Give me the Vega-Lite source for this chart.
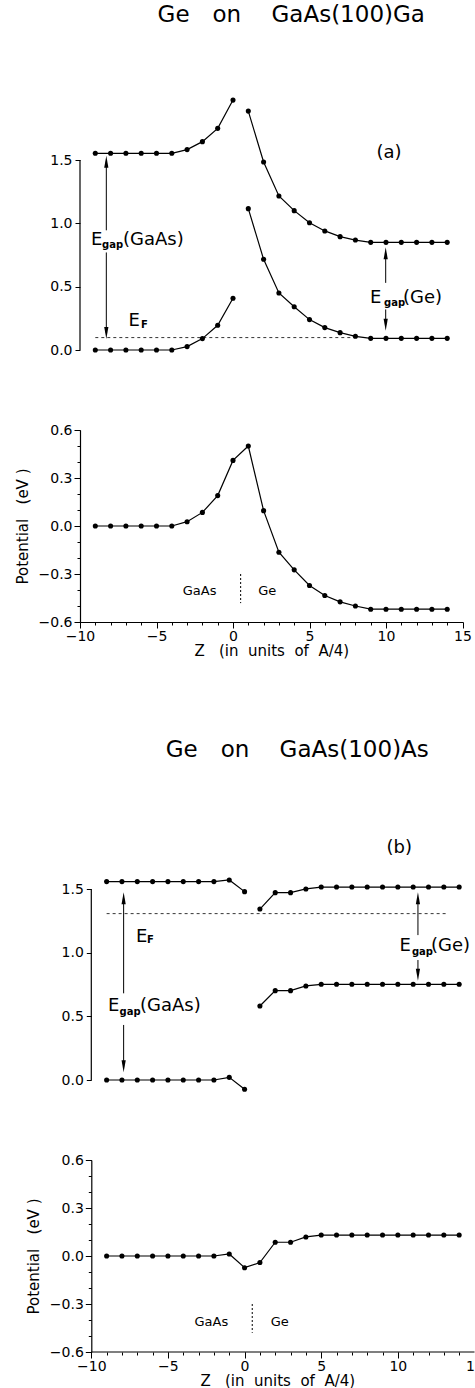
{
  "$schema": "https://vega.github.io/schema/vega-lite/v6.json",
  "padding": {"left": 15, "top": 4, "right": 0, "bottom": 0},
  "background": "white",
  "bounds": "flush",
  "spacing": 80,
  "resolve": {"scale": {"x": "independent", "y": "independent"}},
  "config": {
    "view": {"stroke": null},
    "axis": {
      "grid": false, "labelFont": "DejaVu Sans", "labelFontSize": 14, "labelColor": "black",
      "tickColor": "black", "domainColor": "black", "tickWidth": 1, "domainWidth": 1.2,
      "titleFont": "DejaVu Sans", "titleFontSize": 15, "titleFontWeight": "normal", "titleColor": "black",
      "labelFlush": false, "labelOverlap": false, "labelBound": false
    },
    "title": {"font": "DejaVu Sans", "fontSize": 23, "fontWeight": "normal", "color": "black"}
  },
  "datasets": {
    "a_bands": [
      {"z": -9, "E": 1.553, "series": "cb_GaAs"}, {"z": -8, "E": 1.553, "series": "cb_GaAs"}, {"z": -7, "E": 1.553, "series": "cb_GaAs"},
      {"z": -6, "E": 1.553, "series": "cb_GaAs"}, {"z": -5, "E": 1.553, "series": "cb_GaAs"}, {"z": -4, "E": 1.553, "series": "cb_GaAs"},
      {"z": -3, "E": 1.582, "series": "cb_GaAs"}, {"z": -2, "E": 1.645, "series": "cb_GaAs"}, {"z": -1, "E": 1.75, "series": "cb_GaAs"},
      {"z": 0, "E": 1.973, "series": "cb_GaAs"},
      {"z": 1, "E": 1.886, "series": "cb_Ge"}, {"z": 2, "E": 1.484, "series": "cb_Ge"}, {"z": 3, "E": 1.216, "series": "cb_Ge"},
      {"z": 4, "E": 1.1, "series": "cb_Ge"}, {"z": 5, "E": 1.005, "series": "cb_Ge"}, {"z": 6, "E": 0.94, "series": "cb_Ge"},
      {"z": 7, "E": 0.895, "series": "cb_Ge"}, {"z": 8, "E": 0.868, "series": "cb_Ge"}, {"z": 9, "E": 0.85, "series": "cb_Ge"},
      {"z": 10, "E": 0.85, "series": "cb_Ge"}, {"z": 11, "E": 0.85, "series": "cb_Ge"}, {"z": 12, "E": 0.85, "series": "cb_Ge"},
      {"z": 13, "E": 0.85, "series": "cb_Ge"}, {"z": 14, "E": 0.85, "series": "cb_Ge"},
      {"z": -9, "E": 0, "series": "vb_GaAs"}, {"z": -8, "E": 0, "series": "vb_GaAs"}, {"z": -7, "E": 0, "series": "vb_GaAs"},
      {"z": -6, "E": 0, "series": "vb_GaAs"}, {"z": -5, "E": 0, "series": "vb_GaAs"}, {"z": -4, "E": 0, "series": "vb_GaAs"},
      {"z": -3, "E": 0.027, "series": "vb_GaAs"}, {"z": -2, "E": 0.09, "series": "vb_GaAs"}, {"z": -1, "E": 0.195, "series": "vb_GaAs"},
      {"z": 0, "E": 0.408, "series": "vb_GaAs"},
      {"z": 1, "E": 1.116, "series": "vb_Ge"}, {"z": 2, "E": 0.716, "series": "vb_Ge"}, {"z": 3, "E": 0.45, "series": "vb_Ge"},
      {"z": 4, "E": 0.342, "series": "vb_Ge"}, {"z": 5, "E": 0.24, "series": "vb_Ge"}, {"z": 6, "E": 0.177, "series": "vb_Ge"},
      {"z": 7, "E": 0.137, "series": "vb_Ge"}, {"z": 8, "E": 0.108, "series": "vb_Ge"}, {"z": 9, "E": 0.092, "series": "vb_Ge"},
      {"z": 10, "E": 0.092, "series": "vb_Ge"}, {"z": 11, "E": 0.092, "series": "vb_Ge"}, {"z": 12, "E": 0.092, "series": "vb_Ge"},
      {"z": 13, "E": 0.092, "series": "vb_Ge"}, {"z": 14, "E": 0.092, "series": "vb_Ge"}
    ],
    "a_pot": [
      {"z": -9, "V": 0}, {"z": -8, "V": 0}, {"z": -7, "V": 0}, {"z": -6, "V": 0}, {"z": -5, "V": 0}, {"z": -4, "V": 0},
      {"z": -3, "V": 0.027}, {"z": -2, "V": 0.085}, {"z": -1, "V": 0.19}, {"z": 0, "V": 0.41}, {"z": 1, "V": 0.5},
      {"z": 2, "V": 0.096}, {"z": 3, "V": -0.164}, {"z": 4, "V": -0.274}, {"z": 5, "V": -0.372}, {"z": 6, "V": -0.434},
      {"z": 7, "V": -0.474}, {"z": 8, "V": -0.5}, {"z": 9, "V": -0.52}, {"z": 10, "V": -0.52}, {"z": 11, "V": -0.52},
      {"z": 12, "V": -0.52}, {"z": 13, "V": -0.52}, {"z": 14, "V": -0.52}
    ],
    "b_bands": [
      {"z": -9, "E": 1.561, "series": "cb_GaAs"}, {"z": -8, "E": 1.561, "series": "cb_GaAs"}, {"z": -7, "E": 1.561, "series": "cb_GaAs"},
      {"z": -6, "E": 1.561, "series": "cb_GaAs"}, {"z": -5, "E": 1.561, "series": "cb_GaAs"}, {"z": -4, "E": 1.561, "series": "cb_GaAs"},
      {"z": -3, "E": 1.561, "series": "cb_GaAs"}, {"z": -2, "E": 1.561, "series": "cb_GaAs"}, {"z": -1, "E": 1.574, "series": "cb_GaAs"},
      {"z": 0, "E": 1.482, "series": "cb_GaAs"},
      {"z": 1, "E": 1.345, "series": "cb_Ge"}, {"z": 2, "E": 1.474, "series": "cb_Ge"}, {"z": 3, "E": 1.474, "series": "cb_Ge"},
      {"z": 4, "E": 1.503, "series": "cb_Ge"}, {"z": 5, "E": 1.518, "series": "cb_Ge"}, {"z": 6, "E": 1.518, "series": "cb_Ge"},
      {"z": 7, "E": 1.518, "series": "cb_Ge"}, {"z": 8, "E": 1.518, "series": "cb_Ge"}, {"z": 9, "E": 1.518, "series": "cb_Ge"},
      {"z": 10, "E": 1.518, "series": "cb_Ge"}, {"z": 11, "E": 1.518, "series": "cb_Ge"}, {"z": 12, "E": 1.518, "series": "cb_Ge"},
      {"z": 13, "E": 1.518, "series": "cb_Ge"}, {"z": 14, "E": 1.518, "series": "cb_Ge"},
      {"z": -9, "E": 0, "series": "vb_GaAs"}, {"z": -8, "E": 0, "series": "vb_GaAs"}, {"z": -7, "E": 0, "series": "vb_GaAs"},
      {"z": -6, "E": 0, "series": "vb_GaAs"}, {"z": -5, "E": 0, "series": "vb_GaAs"}, {"z": -4, "E": 0, "series": "vb_GaAs"},
      {"z": -3, "E": 0, "series": "vb_GaAs"}, {"z": -2, "E": 0, "series": "vb_GaAs"}, {"z": -1, "E": 0.021, "series": "vb_GaAs"},
      {"z": 0, "E": -0.073, "series": "vb_GaAs"},
      {"z": 1, "E": 0.582, "series": "vb_Ge"}, {"z": 2, "E": 0.703, "series": "vb_Ge"}, {"z": 3, "E": 0.703, "series": "vb_Ge"},
      {"z": 4, "E": 0.74, "series": "vb_Ge"}, {"z": 5, "E": 0.753, "series": "vb_Ge"}, {"z": 6, "E": 0.753, "series": "vb_Ge"},
      {"z": 7, "E": 0.753, "series": "vb_Ge"}, {"z": 8, "E": 0.753, "series": "vb_Ge"}, {"z": 9, "E": 0.753, "series": "vb_Ge"},
      {"z": 10, "E": 0.753, "series": "vb_Ge"}, {"z": 11, "E": 0.753, "series": "vb_Ge"}, {"z": 12, "E": 0.753, "series": "vb_Ge"},
      {"z": 13, "E": 0.753, "series": "vb_Ge"}, {"z": 14, "E": 0.753, "series": "vb_Ge"}
    ],
    "b_pot": [
      {"z": -9, "V": 0}, {"z": -8, "V": 0}, {"z": -7, "V": 0}, {"z": -6, "V": 0}, {"z": -5, "V": 0}, {"z": -4, "V": 0},
      {"z": -3, "V": 0}, {"z": -2, "V": 0}, {"z": -1, "V": 0.0125}, {"z": 0, "V": -0.073}, {"z": 1, "V": -0.041},
      {"z": 2, "V": 0.086}, {"z": 3, "V": 0.086}, {"z": 4, "V": 0.119}, {"z": 5, "V": 0.131}, {"z": 6, "V": 0.131},
      {"z": 7, "V": 0.131}, {"z": 8, "V": 0.131}, {"z": 9, "V": 0.131}, {"z": 10, "V": 0.131}, {"z": 11, "V": 0.131},
      {"z": 12, "V": 0.131}, {"z": 13, "V": 0.131}, {"z": 14, "V": 0.131}
    ],
    "a_fermi": [{"z1": -9, "z2": 8, "E": 0.098}],
    "b_fermi": [{"z1": -9, "z2": 13.3, "E": 1.309}],
    "axis_line": [{"z": -10, "v1": 0, "v2": 1.5}],
    "b_xline": [{"z1": -10, "z2": 15, "v": -0.6}],
    "a_shafts": [
      {"z": -8.28, "v1": 1.487, "v2": 0.945}, {"z": -8.28, "v1": 0.77, "v2": 0.134},
      {"z": 9.98, "v1": 0.763, "v2": 0.53}, {"z": 9.98, "v1": 0.32, "v2": 0.2}
    ],
    "a_heads": [
      {"z": -8.28, "v": 1.487, "dir": "up"}, {"z": -8.28, "v": 0.134, "dir": "down"},
      {"z": 9.98, "v": 0.763, "dir": "up"}, {"z": 9.98, "v": 0.2, "dir": "down"}
    ],
    "b_shafts": [
      {"z": -7.89, "v1": 1.43, "v2": 0.682}, {"z": -7.89, "v1": 0.433, "v2": 0.108},
      {"z": 11.31, "v1": 1.43, "v2": 1.14}, {"z": 11.31, "v1": 0.944, "v2": 0.828}
    ],
    "b_heads": [
      {"z": -7.89, "v": 1.43, "dir": "up"}, {"z": -7.89, "v": 0.108, "dir": "down"},
      {"z": 11.31, "v": 1.43, "dir": "up"}, {"z": 11.31, "v": 0.828, "dir": "down"}
    ],
    "a_text": [
      {"z": -9.28, "v": 0.868, "t": "E"}, {"z": -7.19, "v": 0.868, "t": "(GaAs)"},
      {"z": -6.83, "v": 0.227, "t": "E"},
      {"z": 8.95, "v": 0.414, "t": "E"}, {"z": 11.11, "v": 0.414, "t": "(Ge)"},
      {"z": 9.38, "v": 1.558, "t": "(a)"}
    ],
    "a_sub": [
      {"z": -8.56, "v": 0.83, "t": "gap"}, {"z": -6.01, "v": 0.195, "t": "F"}, {"z": 9.87, "v": 0.374, "t": "gap"}
    ],
    "b_text": [
      {"z": -8.91, "v": 0.584, "t": "E"}, {"z": -6.82, "v": 0.584, "t": "(GaAs)"},
      {"z": -7.08, "v": 1.128, "t": "E"},
      {"z": 10.1, "v": 1.056, "t": "E"}, {"z": 12.16, "v": 1.056, "t": "(Ge)"},
      {"z": 9.26, "v": 1.823, "t": "(b)"}
    ],
    "b_sub": [
      {"z": -8.16, "v": 0.538, "t": "gap"}, {"z": -6.37, "v": 1.1, "t": "F"}, {"z": 10.92, "v": 1.01, "t": "gap"}
    ],
    "a_iface": [{"z": 0.5, "v1": -0.3, "v2": -0.482}],
    "b_iface": [{"z": 0.5, "v1": -0.3, "v2": -0.48}],
    "a_lbl": [{"z": -2.18, "v": -0.407, "t": "GaAs"}, {"z": 2.24, "v": -0.407, "t": "Ge"}],
    "b_lbl": [{"z": -2.17, "v": -0.41, "t": "GaAs"}, {"z": 2.29, "v": -0.41, "t": "Ge"}]
  },
  "vconcat": [
    {
      "width": 382.5, "height": 342,
      "title": {"text": "Ge\u2003on\u2003\u00a0GaAs(100)Ga", "frame": "group", "anchor": "middle", "dx": 20, "offset": -42, "baseline": "bottom"},
      "layer": [
        {
          "data": {"name": "a_bands"},
          "mark": {"type": "line", "color": "black", "strokeWidth": 1.2},
          "encoding": {
            "x": {"field": "z", "type": "quantitative", "scale": {"domain": [-10, 15], "nice": false, "zero": false}, "axis": null},
            "y": {"field": "E", "type": "quantitative", "scale": {"domain": [0, 2.7], "nice": false, "zero": false},
                  "axis": {"values": [0, 0.5, 1, 1.5], "format": ".1f", "domain": false, "tickSize": 5, "labelPadding": 3, "title": null, "labelOverlap": false}},
            "detail": {"field": "series"}
          }
        },
        {
          "data": {"name": "a_bands"},
          "mark": {"type": "point", "filled": true, "size": 26, "color": "black", "opacity": 1},
          "encoding": {
            "x": {"field": "z", "type": "quantitative", "axis": null},
            "y": {"field": "E", "type": "quantitative"}
          }
        },
        {
          "data": {"name": "a_fermi"},
          "mark": {"type": "rule", "color": "black", "strokeWidth": 0.8, "strokeDash": [3, 3]},
          "encoding": {
            "x": {"field": "z1", "type": "quantitative", "axis": null}, "x2": {"field": "z2"},
            "y": {"field": "E", "type": "quantitative"}
          }
        },
        {
          "data": {"name": "axis_line"},
          "mark": {"type": "rule", "color": "black", "strokeWidth": 1.2},
          "encoding": {
            "x": {"field": "z", "type": "quantitative", "axis": null},
            "y": {"field": "v1", "type": "quantitative"}, "y2": {"field": "v2"}
          }
        },
        {
          "data": {"name": "a_shafts"},
          "mark": {"type": "rule", "color": "black", "strokeWidth": 1},
          "encoding": {
            "x": {"field": "z", "type": "quantitative", "axis": null},
            "y": {"field": "v1", "type": "quantitative"}, "y2": {"field": "v2"}
          }
        },
        {
          "data": {"name": "a_heads"},
          "mark": {"type": "point", "filled": true, "size": 144, "color": "black", "opacity": 1},
          "encoding": {
            "x": {"field": "z", "type": "quantitative", "axis": null},
            "y": {"field": "v", "type": "quantitative"},
            "shape": {"field": "dir", "type": "nominal", "legend": null,
                      "scale": {"domain": ["up", "down"], "range": ["M-0.35,1L0,-1L0.35,1Z", "M-0.35,-1L0,1L0.35,-1Z"]}}
          }
        },
        {
          "data": {"name": "a_text"},
          "mark": {"type": "text", "align": "left", "baseline": "middle", "font": "DejaVu Sans", "fontSize": 18, "color": "black"},
          "encoding": {
            "x": {"field": "z", "type": "quantitative", "axis": null},
            "y": {"field": "v", "type": "quantitative"},
            "text": {"field": "t"}
          }
        },
        {
          "data": {"name": "a_sub"},
          "mark": {"type": "text", "align": "left", "baseline": "middle", "font": "DejaVu Sans", "fontSize": 10, "fontWeight": "bold", "color": "black"},
          "encoding": {
            "x": {"field": "z", "type": "quantitative", "axis": null},
            "y": {"field": "v", "type": "quantitative"},
            "text": {"field": "t"}
          }
        }
      ]
    },
    {
      "width": 382.5, "height": 192,
      "resolve": {"axis": {"x": "independent", "y": "independent"}},
      "layer": [
        {
          "data": {"name": "a_pot"},
          "mark": {"type": "line", "color": "black", "strokeWidth": 1.2},
          "encoding": {
            "x": {"field": "z", "type": "quantitative", "scale": {"domain": [-10, 15], "nice": false, "zero": false},
                  "axis": {"orient": "bottom", "values": [-10, -5, 0, 5, 10, 15], "format": "d", "labelOverlap": false, "tickSize": 6,
                           "labelPadding": 1, "titlePadding": 0, "title": "Z\u00a0\u00a0 (in\u00a0 units\u00a0 of\u00a0 A/4)"}},
            "y": {"field": "V", "type": "quantitative", "scale": {"domain": [-0.6, 0.6], "nice": false, "zero": false},
                  "axis": {"orient": "left", "values": [-0.6, -0.3, 0, 0.3, 0.6], "format": ".1f", "labelOverlap": false, "tickSize": 6,
                           "labelPadding": 2, "titlePadding": 8, "title": "Potential\u00a0\u00a0 (eV\u00a0)"}}
          }
        },
        {
          "data": {"name": "a_pot"},
          "mark": {"type": "point", "filled": true, "size": 26, "color": "black", "opacity": 1},
          "encoding": {
            "x": {"field": "z", "type": "quantitative",
                  "axis": {"orient": "bottom", "values": [-10, -9, -8, -7, -6, -5, -4, -3, -2, -1, 0, 1, 2, 3, 4, 5, 6, 7, 8, 9, 10, 11, 12, 13, 14, 15],
                           "labels": false, "domain": false, "tickSize": 3, "title": null}},
            "y": {"field": "V", "type": "quantitative",
                  "axis": {"orient": "left", "values": [-0.6, -0.5, -0.4, -0.3, -0.2, -0.1, 0, 0.1, 0.2, 0.3, 0.4, 0.5, 0.6],
                           "labels": false, "domain": false, "tickSize": 3, "title": null}}
          }
        },
        {
          "data": {"name": "a_iface"},
          "mark": {"type": "rule", "color": "black", "strokeWidth": 1, "strokeDash": [2, 2]},
          "encoding": {
            "x": {"field": "z", "type": "quantitative", "axis": null},
            "y": {"field": "v1", "type": "quantitative", "axis": null}, "y2": {"field": "v2"}
          }
        },
        {
          "data": {"name": "a_lbl"},
          "mark": {"type": "text", "align": "center", "baseline": "middle", "font": "DejaVu Sans", "fontSize": 13, "color": "black"},
          "encoding": {
            "x": {"field": "z", "type": "quantitative", "axis": null},
            "y": {"field": "v", "type": "quantitative", "axis": null},
            "text": {"field": "t"}
          }
        }
      ]
    },
    {
      "width": 394.5, "height": 378,
      "title": {"text": "Ge\u2003on\u2003\u00a0GaAs(100)As", "frame": "group", "anchor": "middle", "dx": 20, "offset": -83, "baseline": "bottom"},
      "layer": [
        {
          "data": {"name": "b_bands"},
          "mark": {"type": "line", "color": "black", "strokeWidth": 1.2},
          "encoding": {
            "x": {"field": "z", "type": "quantitative", "scale": {"domain": [-10.737, 15], "nice": false, "zero": false}, "axis": null},
            "y": {"field": "E", "type": "quantitative", "scale": {"domain": [0, 2.974], "nice": false, "zero": false},
                  "axis": {"values": [0, 0.5, 1, 1.5], "format": ".1f", "domain": false, "tickSize": 5, "labelPadding": 3, "title": null, "offset": -11.3, "labelOverlap": false}},
            "detail": {"field": "series"}
          }
        },
        {
          "data": {"name": "b_bands"},
          "mark": {"type": "point", "filled": true, "size": 26, "color": "black", "opacity": 1},
          "encoding": {
            "x": {"field": "z", "type": "quantitative", "axis": null},
            "y": {"field": "E", "type": "quantitative"}
          }
        },
        {
          "data": {"name": "b_fermi"},
          "mark": {"type": "rule", "color": "black", "strokeWidth": 0.8, "strokeDash": [3, 3]},
          "encoding": {
            "x": {"field": "z1", "type": "quantitative", "axis": null}, "x2": {"field": "z2"},
            "y": {"field": "E", "type": "quantitative"}
          }
        },
        {
          "data": {"name": "axis_line"},
          "mark": {"type": "rule", "color": "black", "strokeWidth": 1.2},
          "encoding": {
            "x": {"field": "z", "type": "quantitative", "axis": null},
            "y": {"field": "v1", "type": "quantitative"}, "y2": {"field": "v2"}
          }
        },
        {
          "data": {"name": "b_shafts"},
          "mark": {"type": "rule", "color": "black", "strokeWidth": 1},
          "encoding": {
            "x": {"field": "z", "type": "quantitative", "axis": null},
            "y": {"field": "v1", "type": "quantitative"}, "y2": {"field": "v2"}
          }
        },
        {
          "data": {"name": "b_heads"},
          "mark": {"type": "point", "filled": true, "size": 144, "color": "black", "opacity": 1},
          "encoding": {
            "x": {"field": "z", "type": "quantitative", "axis": null},
            "y": {"field": "v", "type": "quantitative"},
            "shape": {"field": "dir", "type": "nominal", "legend": null,
                      "scale": {"domain": ["up", "down"], "range": ["M-0.35,1L0,-1L0.35,1Z", "M-0.35,-1L0,1L0.35,-1Z"]}}
          }
        },
        {
          "data": {"name": "b_text"},
          "mark": {"type": "text", "align": "left", "baseline": "middle", "font": "DejaVu Sans", "fontSize": 18, "color": "black"},
          "encoding": {
            "x": {"field": "z", "type": "quantitative", "axis": null},
            "y": {"field": "v", "type": "quantitative"},
            "text": {"field": "t"}
          }
        },
        {
          "data": {"name": "b_sub"},
          "mark": {"type": "text", "align": "left", "baseline": "middle", "font": "DejaVu Sans", "fontSize": 10, "fontWeight": "bold", "color": "black"},
          "encoding": {
            "x": {"field": "z", "type": "quantitative", "axis": null},
            "y": {"field": "v", "type": "quantitative"},
            "text": {"field": "t"}
          }
        }
      ]
    },
    {
      "width": 394.5, "height": 192,
      "resolve": {"axis": {"x": "independent", "y": "independent"}},
      "layer": [
        {
          "data": {"name": "b_pot"},
          "mark": {"type": "line", "color": "black", "strokeWidth": 1.2},
          "encoding": {
            "x": {"field": "z", "type": "quantitative", "scale": {"domain": [-10.737, 15], "nice": false, "zero": false},
                  "axis": {"orient": "bottom", "values": [-10, -5, 0, 5, 10, 15], "format": "d", "labelOverlap": false, "tickSize": 6, "domain": false,
                           "labelPadding": 1, "titlePadding": 0, "title": "Z\u00a0\u00a0 (in\u00a0 units\u00a0 of\u00a0 A/4)"}},
            "y": {"field": "V", "type": "quantitative", "scale": {"domain": [-0.6, 0.6], "nice": false, "zero": false},
                  "axis": {"orient": "left", "values": [-0.6, -0.3, 0, 0.3, 0.6], "format": ".1f", "labelOverlap": false, "tickSize": 6, "offset": -11.3,
                           "labelPadding": 2, "titlePadding": 8, "title": "Potential\u00a0\u00a0 (eV\u00a0)"}}
          }
        },
        {
          "data": {"name": "b_pot"},
          "mark": {"type": "point", "filled": true, "size": 26, "color": "black", "opacity": 1},
          "encoding": {
            "x": {"field": "z", "type": "quantitative",
                  "axis": {"orient": "bottom", "values": [-10, -9, -8, -7, -6, -5, -4, -3, -2, -1, 0, 1, 2, 3, 4, 5, 6, 7, 8, 9, 10, 11, 12, 13, 14, 15],
                           "labels": false, "domain": false, "tickSize": 3, "title": null}},
            "y": {"field": "V", "type": "quantitative",
                  "axis": {"orient": "left", "values": [-0.6, -0.5, -0.4, -0.3, -0.2, -0.1, 0, 0.1, 0.2, 0.3, 0.4, 0.5, 0.6],
                           "labels": false, "domain": false, "tickSize": 3, "title": null, "offset": -11.3}}
          }
        },
        {
          "data": {"name": "b_xline"},
          "mark": {"type": "rule", "color": "black", "strokeWidth": 1.2},
          "encoding": {
            "x": {"field": "z1", "type": "quantitative", "axis": null}, "x2": {"field": "z2"},
            "y": {"field": "v", "type": "quantitative", "axis": null}
          }
        },
        {
          "data": {"name": "b_iface"},
          "mark": {"type": "rule", "color": "black", "strokeWidth": 1, "strokeDash": [2, 2]},
          "encoding": {
            "x": {"field": "z", "type": "quantitative", "axis": null},
            "y": {"field": "v1", "type": "quantitative", "axis": null}, "y2": {"field": "v2"}
          }
        },
        {
          "data": {"name": "b_lbl"},
          "mark": {"type": "text", "align": "center", "baseline": "middle", "font": "DejaVu Sans", "fontSize": 13, "color": "black"},
          "encoding": {
            "x": {"field": "z", "type": "quantitative", "axis": null},
            "y": {"field": "v", "type": "quantitative", "axis": null},
            "text": {"field": "t"}
          }
        }
      ]
    }
  ]
}
